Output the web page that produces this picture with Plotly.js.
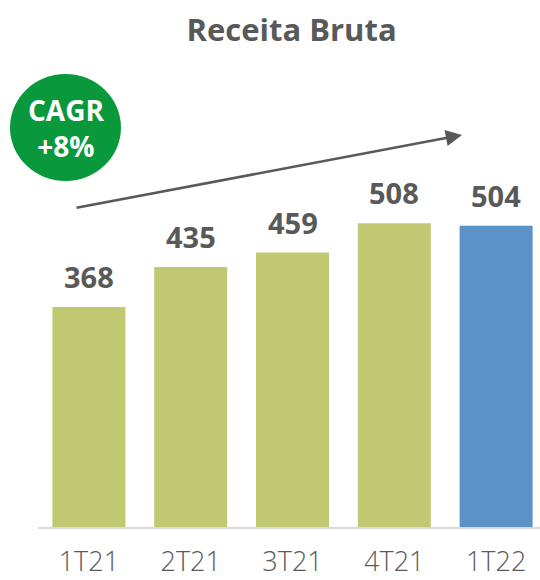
<!DOCTYPE html>
<html>
<head>
<meta charset="utf-8">
<script src="https://cdn.plot.ly/plotly-3.0.1.min.js"></script>
<style>html,body{margin:0;padding:0;background:#fff;}#chart{width:540px;height:580px;}</style>
</head>
<body>
<div id="chart"></div>
<script>
const categories = ["1T21", "2T21", "3T21", "4T21", "1T22"];
const values = [368, 435, 459, 508, 504];
const barColors = ["#c0c971", "#c0c971", "#c0c971", "#c0c971", "#5b93c9"];
const chartTitle = "Receita Bruta";
const cagrLabel = "CAGR<br>+8%";

const gray = "#595959";
const font = "Open Sans, Lato, sans-serif";

const trace = {
  type: "bar",
  x: categories,
  y: values,
  marker: { color: barColors },
  width: 0.717,
  hoverinfo: "skip"
};

const labelAnnotations = categories.map((c, i) => ({
  x: c, y: values[i], xref: "x", yref: "y",
  text: String(values[i]), showarrow: false,
  yanchor: "bottom", yshift: 9,
  font: { family: font, size: 29, color: gray, weight: 700 }
}));

const layout = {
  width: 540, height: 580,
  margin: { l: 38, r: 0, t: 0, b: 53 },
  paper_bgcolor: "#fff", plot_bgcolor: "#fff",
  showlegend: false,
  title: { text: chartTitle, x: 0.54, xanchor: "center", y: 0.948, yanchor: "middle",
           font: { family: font, size: 31, color: gray, weight: 700 } },
  xaxis: {
    type: "category", range: [-0.5, 4.431],
    showline: true, linecolor: "#d9d9d9", linewidth: 2,
    showgrid: false, zeroline: false, ticks: "",
    ticklabelstandoff: 10,
    tickfont: { family: font, size: 27, color: gray, weight: 300 }
  },
  yaxis: { range: [0, 881.6], visible: false, showgrid: false, zeroline: false },
  shapes: [{
    type: "circle", xref: "paper", yref: "paper",
    x0: -0.0558, x1: 0.1653, y0: 0.6565, y1: 0.8596,
    fillcolor: "#0a983c", line: { width: 0 }
  }],
  annotations: labelAnnotations.concat([
    {
      xref: "paper", yref: "paper", x: 0.0548, y: 0.758,
      text: cagrLabel, showarrow: false, xanchor: "center", yanchor: "middle",
      font: { family: font, size: 28, color: "#ffffff", weight: 700 }
    },
    {
      x: 3.665, y: 655.7, xref: "x", yref: "y",
      ax: -0.1365, ay: 533.6, axref: "x", ayref: "y",
      showarrow: true, arrowhead: 2, arrowsize: 1.3, arrowwidth: 2.5, arrowcolor: gray,
      text: ""
    }
  ])
};

Plotly.newPlot("chart", [trace], layout, { displayModeBar: false, staticPlot: true });
</script>
</body>
</html>
